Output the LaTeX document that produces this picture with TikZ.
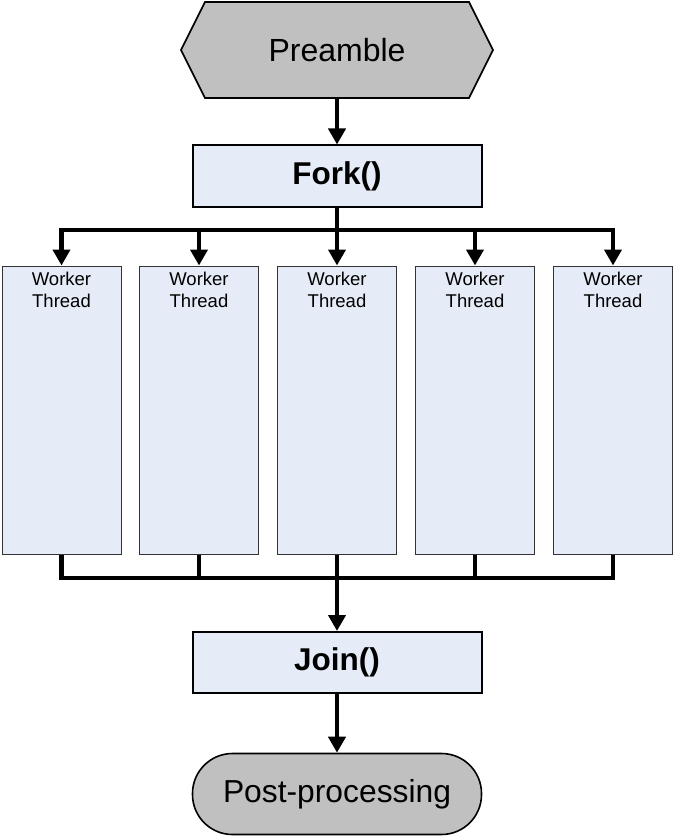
\documentclass[tikz,border=0pt]{standalone}
\usepackage{fontspec}
\setmainfont{Liberation Sans}
\usetikzlibrary{arrows.meta}
\definecolor{boxblue}{HTML}{E6ECF7}
\definecolor{boxgray}{HTML}{C0C0C0}
\tikzset{
  conn/.style={line width=4.5pt, line join=miter, draw=black},
  arr/.style={conn, -{Triangle[width=17pt,length=16pt]}},
  procbox/.style={draw=black, line width=2pt, fill=boxblue, minimum width=289pt, minimum height=61pt, inner sep=0pt, font=\fontsize{31.5}{36}\selectfont\bfseries},
  workerbox/.style={draw=black!80, line width=1pt, fill=boxblue, minimum width=119pt, minimum height=288pt, inner sep=0pt},
  workerlabel/.style={anchor=north, inner sep=0pt, align=center, font=\fontsize{18.5}{22}\selectfont},
  endbox/.style={draw=black, line width=1.6pt, fill=boxgray, minimum width=289pt, minimum height=81pt, rounded corners=40pt, inner sep=0pt, font=\fontsize{31.8}{38}\selectfont}
}
\begin{document}
\begin{tikzpicture}[x=1pt,y=-1pt]
\useasboundingbox (0,0) rectangle (675,837);
% Preamble hexagon
\draw[line width=1.6pt, fill=boxgray] (181,50) -- (205,2) -- (469,2) -- (493,50) -- (469,98) -- (205,98) -- cycle;
\node[inner sep=0pt, minimum width=312pt, minimum height=96pt, font=\fontsize{32}{37}\selectfont] (pre) at (337,50) {Preamble};
% Fork
\node[procbox] (fork) at (337,176) {Fork()};
% Workers
\foreach \i/\x in {1/61.5,2/199,3/337,4/475,5/613}{
  \node[workerbox] (w\i) at (\x,410) {};
  \node[workerlabel] (wl\i) at ([yshift=-6pt]w\i.north) {Worker\\Thread};
}
% Join
\node[procbox] (join) at (337,662.5) {Join()};
% Post-processing
\node[endbox] (post) at (337,794) {Post-processing};
% connectors
\coordinate (forkbar) at (337,230);
\coordinate (joinbar) at (337,578);
\draw[arr] (pre.south) -- (fork.north);
\draw[conn] (fork.south) -- (forkbar);
\foreach \i in {1,2,3,4,5}{
  \draw[arr] (forkbar) -| (w\i.north);
}
\foreach \i in {1,2,4,5}{
  \draw[conn] (w\i.south) |- (joinbar);
}
\draw[arr] (w3.south) -- (join.north);
\draw[arr] (join.south) -- (post.north);
\end{tikzpicture}
\end{document}
